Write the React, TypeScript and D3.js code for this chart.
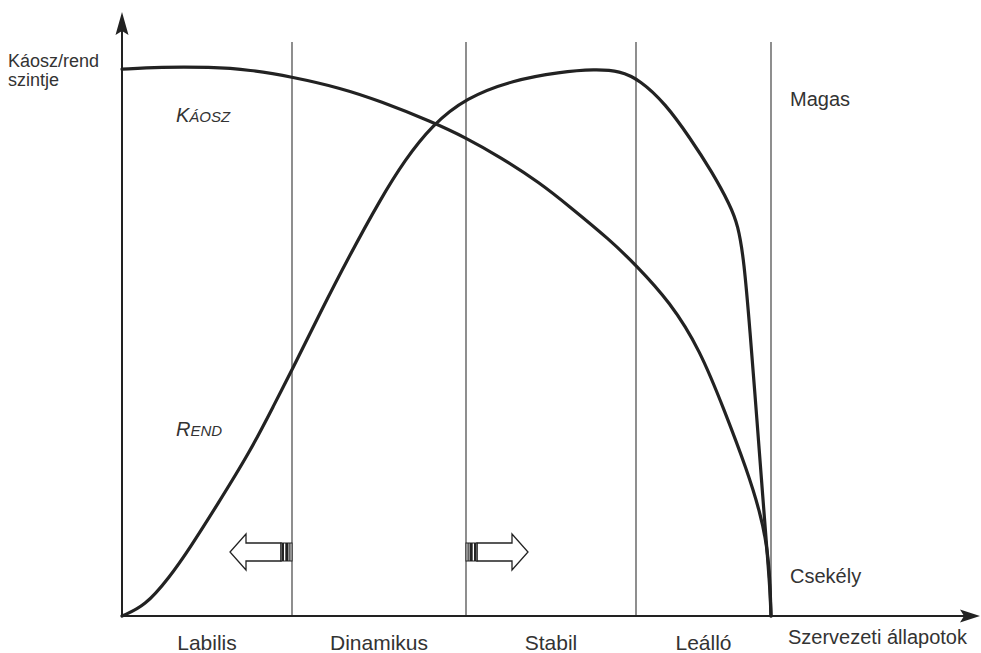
import React from "react";
import * as d3 from "d3";

// ---- data (x in "state" units: 0..4 between dividers, y = level 0..100) ----
const states = ["Labilis", "Dinamikus", "Stabil", "Leálló"];
const dividerStates = [1, 2, 3, 4];
const chaosX = [0, 0.224, 0.518, 0.753, 1.0, 1.276, 1.506, 1.805, 2.0, 2.2, 2.435, 2.612, 2.847, 3.0, 3.252, 3.474, 3.659, 3.822, 3.919, 3.97, 3.993, 4.0];
const chaosY = [99.6, 100, 100, 99.5, 98.2, 96.2, 93.8, 90.0, 87.1, 83.6, 78.9, 74.5, 68.5, 63.9, 57.2, 48.5, 37.2, 26.6, 18.9, 12.9, 6.6, 0];
const rendX = [0, 0.135, 0.276, 0.4, 0.559, 0.753, 0.9, 1.0, 1.161, 1.333, 1.506, 1.649, 1.805, 2.0, 2.276, 2.553, 2.759, 2.906, 3.03, 3.215, 3.4, 3.563, 3.696, 3.756, 3.8, 3.844, 3.896, 3.941, 3.97, 3.993, 4.0];
const rendY = [0, 1.8, 6.9, 12.4, 20.2, 29.9, 38.8, 44.8, 55.2, 65.8, 75.8, 83.1, 89.4, 94.4, 97.6, 99.1, 99.6, 99.3, 97.6, 93.4, 87.1, 80.9, 74.9, 71.2, 64.8, 52.1, 35.7, 21.1, 12.0, 4.7, 0];
const yAxisTitle = ["Káosz/rend", "szintje"];
const xAxisTitle = "Szervezeti állapotok";
const highLabel = "Magas";
const lowLabel = "Csekély";

const W = 981;
const H = 653;
const x0 = 122;
const yBase = 616;
const xAxisEnd = 980;
const yAxisEnd = 12;
const dividerTop = 42;

const x = d3.scaleLinear().domain([0, 1, 2, 3, 4]).range([x0, 292, 466, 636, 771]);
const y = d3.scaleLinear().domain([0, 100]).range([yBase, 67]);

const line = d3
  .line<[number, number]>()
  .x((d) => x(d[0]))
  .y((d) => y(d[1]))
  .curve(d3.curveBasis);

const chaosPts: [number, number][] = chaosX.map((v, i) => [v, chaosY[i]]);
const rendPts: [number, number][] = rendX.map((v, i) => [v, rendY[i]]);

const INK = "#222";
const TEXT = "#333";
const FONT = "Liberation Sans, Arial, Helvetica, sans-serif";

function BlockArrow({ at, dir }: { at: number; dir: 1 | -1 }) {
  const cy = 552;
  const stripeW = 11;
  const shaftLen = 35;
  const headLen = 16;
  const shaftH = 9;
  const headH = 18;
  const sx = (d: number) => at + dir * d;
  const pts = [
    [sx(stripeW), cy - shaftH],
    [sx(stripeW + shaftLen), cy - shaftH],
    [sx(stripeW + shaftLen), cy - headH],
    [sx(stripeW + shaftLen + headLen), cy],
    [sx(stripeW + shaftLen), cy + headH],
    [sx(stripeW + shaftLen), cy + shaftH],
    [sx(stripeW), cy + shaftH],
  ];
  const bars = [
    [1.5, 1.2],
    [3.5, 3.2],
    [8, 2.5],
  ];
  return (
    <g>
      <polygon points={pts.map((p) => p.join(",")).join(" ")} fill="#fff" stroke={INK} strokeWidth={1.3} />
      <rect
        x={Math.min(sx(0), sx(stripeW))}
        y={cy - shaftH}
        width={stripeW}
        height={shaftH * 2}
        fill="#fff"
        stroke={INK}
        strokeWidth={1}
      />
      {bars.map(([o, w], i) => (
        <rect
          key={i}
          x={dir === 1 ? at + o : at - o - w}
          y={cy - shaftH}
          width={w}
          height={shaftH * 2}
          fill={INK}
        />
      ))}
    </g>
  );
}

function SmallCaps({ text, px, py }: { text: string; px: number; py: number }) {
  return (
    <text x={px} y={py} fontFamily={FONT} fontStyle="italic" fill={TEXT}>
      <tspan fontSize={20}>{text[0]}</tspan>
      <tspan fontSize={15}>{text.slice(1).toUpperCase()}</tspan>
    </text>
  );
}

export default function App() {
  const bounds = [0, ...dividerStates];
  return (
    <svg
      width={W}
      height={H}
      style={{ position: "absolute", left: 0, top: 0, background: "#fff" }}
      viewBox={`0 0 ${W} ${H}`}
    >
      <rect width={W} height={H} fill="#fff" />
      {dividerStates.map((s) => (
        <line key={s} x1={x(s)} x2={x(s)} y1={dividerTop} y2={yBase} stroke="#444" strokeWidth={1.2} />
      ))}
      <line x1={x0} x2={x0} y1={yBase} y2={yAxisEnd + 18} stroke={INK} strokeWidth={2} />
      <polygon
        points={`${x0},${yAxisEnd} ${x0 - 6.5},${yAxisEnd + 23} ${x0},${yAxisEnd + 19} ${x0 + 6.5},${yAxisEnd + 23}`}
        fill={INK}
      />
      <line x1={x0} x2={xAxisEnd - 16} y1={yBase} y2={yBase} stroke={INK} strokeWidth={2} />
      <polygon
        points={`${xAxisEnd},${yBase} ${xAxisEnd - 20},${yBase - 6.5} ${xAxisEnd - 16},${yBase} ${xAxisEnd - 20},${yBase + 6.5}`}
        fill={INK}
      />
      <path d={line(chaosPts) || ""} fill="none" stroke={INK} strokeWidth={3.2} strokeLinecap="round" />
      <path d={line(rendPts) || ""} fill="none" stroke={INK} strokeWidth={3.2} strokeLinecap="round" />
      <BlockArrow at={x(1)} dir={-1} />
      <BlockArrow at={x(2)} dir={1} />
      <text fontFamily={FONT} fontSize={18} fill={TEXT}>
        <tspan x={8} y={67}>{yAxisTitle[0]}</tspan>
        <tspan x={8} y={86}>{yAxisTitle[1]}</tspan>
      </text>
      <SmallCaps text="Káosz" px={176} py={122} />
      <SmallCaps text="Rend" px={176} py={436} />
      <text x={790} y={106} fontFamily={FONT} fontSize={20} fill={TEXT}>
        {highLabel}
      </text>
      <text x={790} y={583} fontFamily={FONT} fontSize={20} fill={TEXT}>
        {lowLabel}
      </text>
      {states.map((s, i) => (
        <text
          key={s}
          x={(x(bounds[i]) + x(bounds[i + 1])) / 2}
          y={650}
          textAnchor="middle"
          fontFamily={FONT}
          fontSize={21}
          fill={TEXT}
        >
          {s}
        </text>
      ))}
      <text x={788} y={644} fontFamily={FONT} fontSize={20} fill={TEXT}>
        {xAxisTitle}
      </text>
    </svg>
  );
}
